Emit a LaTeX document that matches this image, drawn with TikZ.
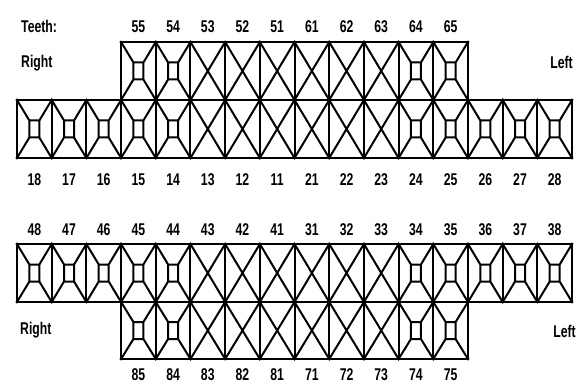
\documentclass[tikz,border=0pt]{standalone}
\usepackage{fontspec}
\setmainfont{Liberation Sans}[FakeStretch=0.72,UprightFont=* Bold]
\tikzset{
  chartline/.style={line width=2pt, line join=round, line cap=round},
  lab/.style={font=\fontsize{17}{17}\selectfont, inner sep=0pt},
  junction/.style={fill=black, draw=none}
}
\newcommand\drawtooth[3]{%
  \pgfmathsetmacro\xa{17+#1*34.69}%
  \pgfmathsetmacro\xb{\xa+34.69}%
  \pgfmathsetmacro\xm{\xa+17.345}%
  \pgfmathsetmacro\ym{(#2+#3)/2}%
  \draw[chartline] (\xa,#2) rectangle (\xb,#3);%
  \pgfmathparse{and(#1>4,#1<11)}%
  \ifdim\pgfmathresult pt>0.5pt
    \draw[chartline] (\xa,#2) -- (\xb,#3) (\xb,#2) -- (\xa,#3);%
  \else
    \draw[chartline] (\xm-5,\ym-8.5) rectangle (\xm+5,\ym+8.5)
      (\xa,#2) -- (\xm-5,\ym-8.5) (\xb,#2) -- (\xm+5,\ym-8.5)
      (\xa,#3) -- (\xm-5,\ym+8.5) (\xb,#3) -- (\xm+5,\ym+8.5);%
  \fi
  \fill[junction] (\xa,#2) circle (1.6) (\xb,#2) circle (1.6)
                  (\xa,#3) circle (1.6) (\xb,#3) circle (1.6);%
}
\begin{document}
\begin{tikzpicture}[x=1pt,y=-1pt]
\useasboundingbox (0,0) rectangle (578,385);
% upper arch
\foreach \c in {3,...,12} {\drawtooth{\c}{42}{100}}
\foreach \c in {0,...,15} {\drawtooth{\c}{100}{158}}
% lower arch
\foreach \c in {0,...,15} {\drawtooth{\c}{244}{302}}
\foreach \c in {3,...,12} {\drawtooth{\c}{302}{359}}
% labels
\node[lab, anchor=base west] (teeth) at (21,33) {Teeth:};
\node[lab, anchor=base west] (rightU) at (21,68) {Right};
\node[lab, anchor=base east] (leftU) at (573,69) {Left};
\node[lab, anchor=base west] (rightL) at (20,334) {Right};
\node[lab, anchor=base east] (leftL) at (576,337) {Left};
\foreach \t [count=\i from 3] in {55,54,53,52,51,61,62,63,64,65}
  \node[lab, anchor=base] (u\t) at ({17+(\i+0.5)*34.69},33) {\t};
\foreach \t [count=\i from 0] in {18,17,16,15,14,13,12,11,21,22,23,24,25,26,27,28}
  \node[lab, anchor=base] (p\t) at ({17+(\i+0.5)*34.69},185) {\t};
\foreach \t [count=\i from 0] in {48,47,46,45,44,43,42,41,31,32,33,34,35,36,37,38}
  \node[lab, anchor=base] (p\t) at ({17+(\i+0.5)*34.69},235) {\t};
\foreach \t [count=\i from 3] in {85,84,83,82,81,71,72,73,74,75}
  \node[lab, anchor=base] (l\t) at ({17+(\i+0.5)*34.69},380) {\t};
\end{tikzpicture}
\end{document}
